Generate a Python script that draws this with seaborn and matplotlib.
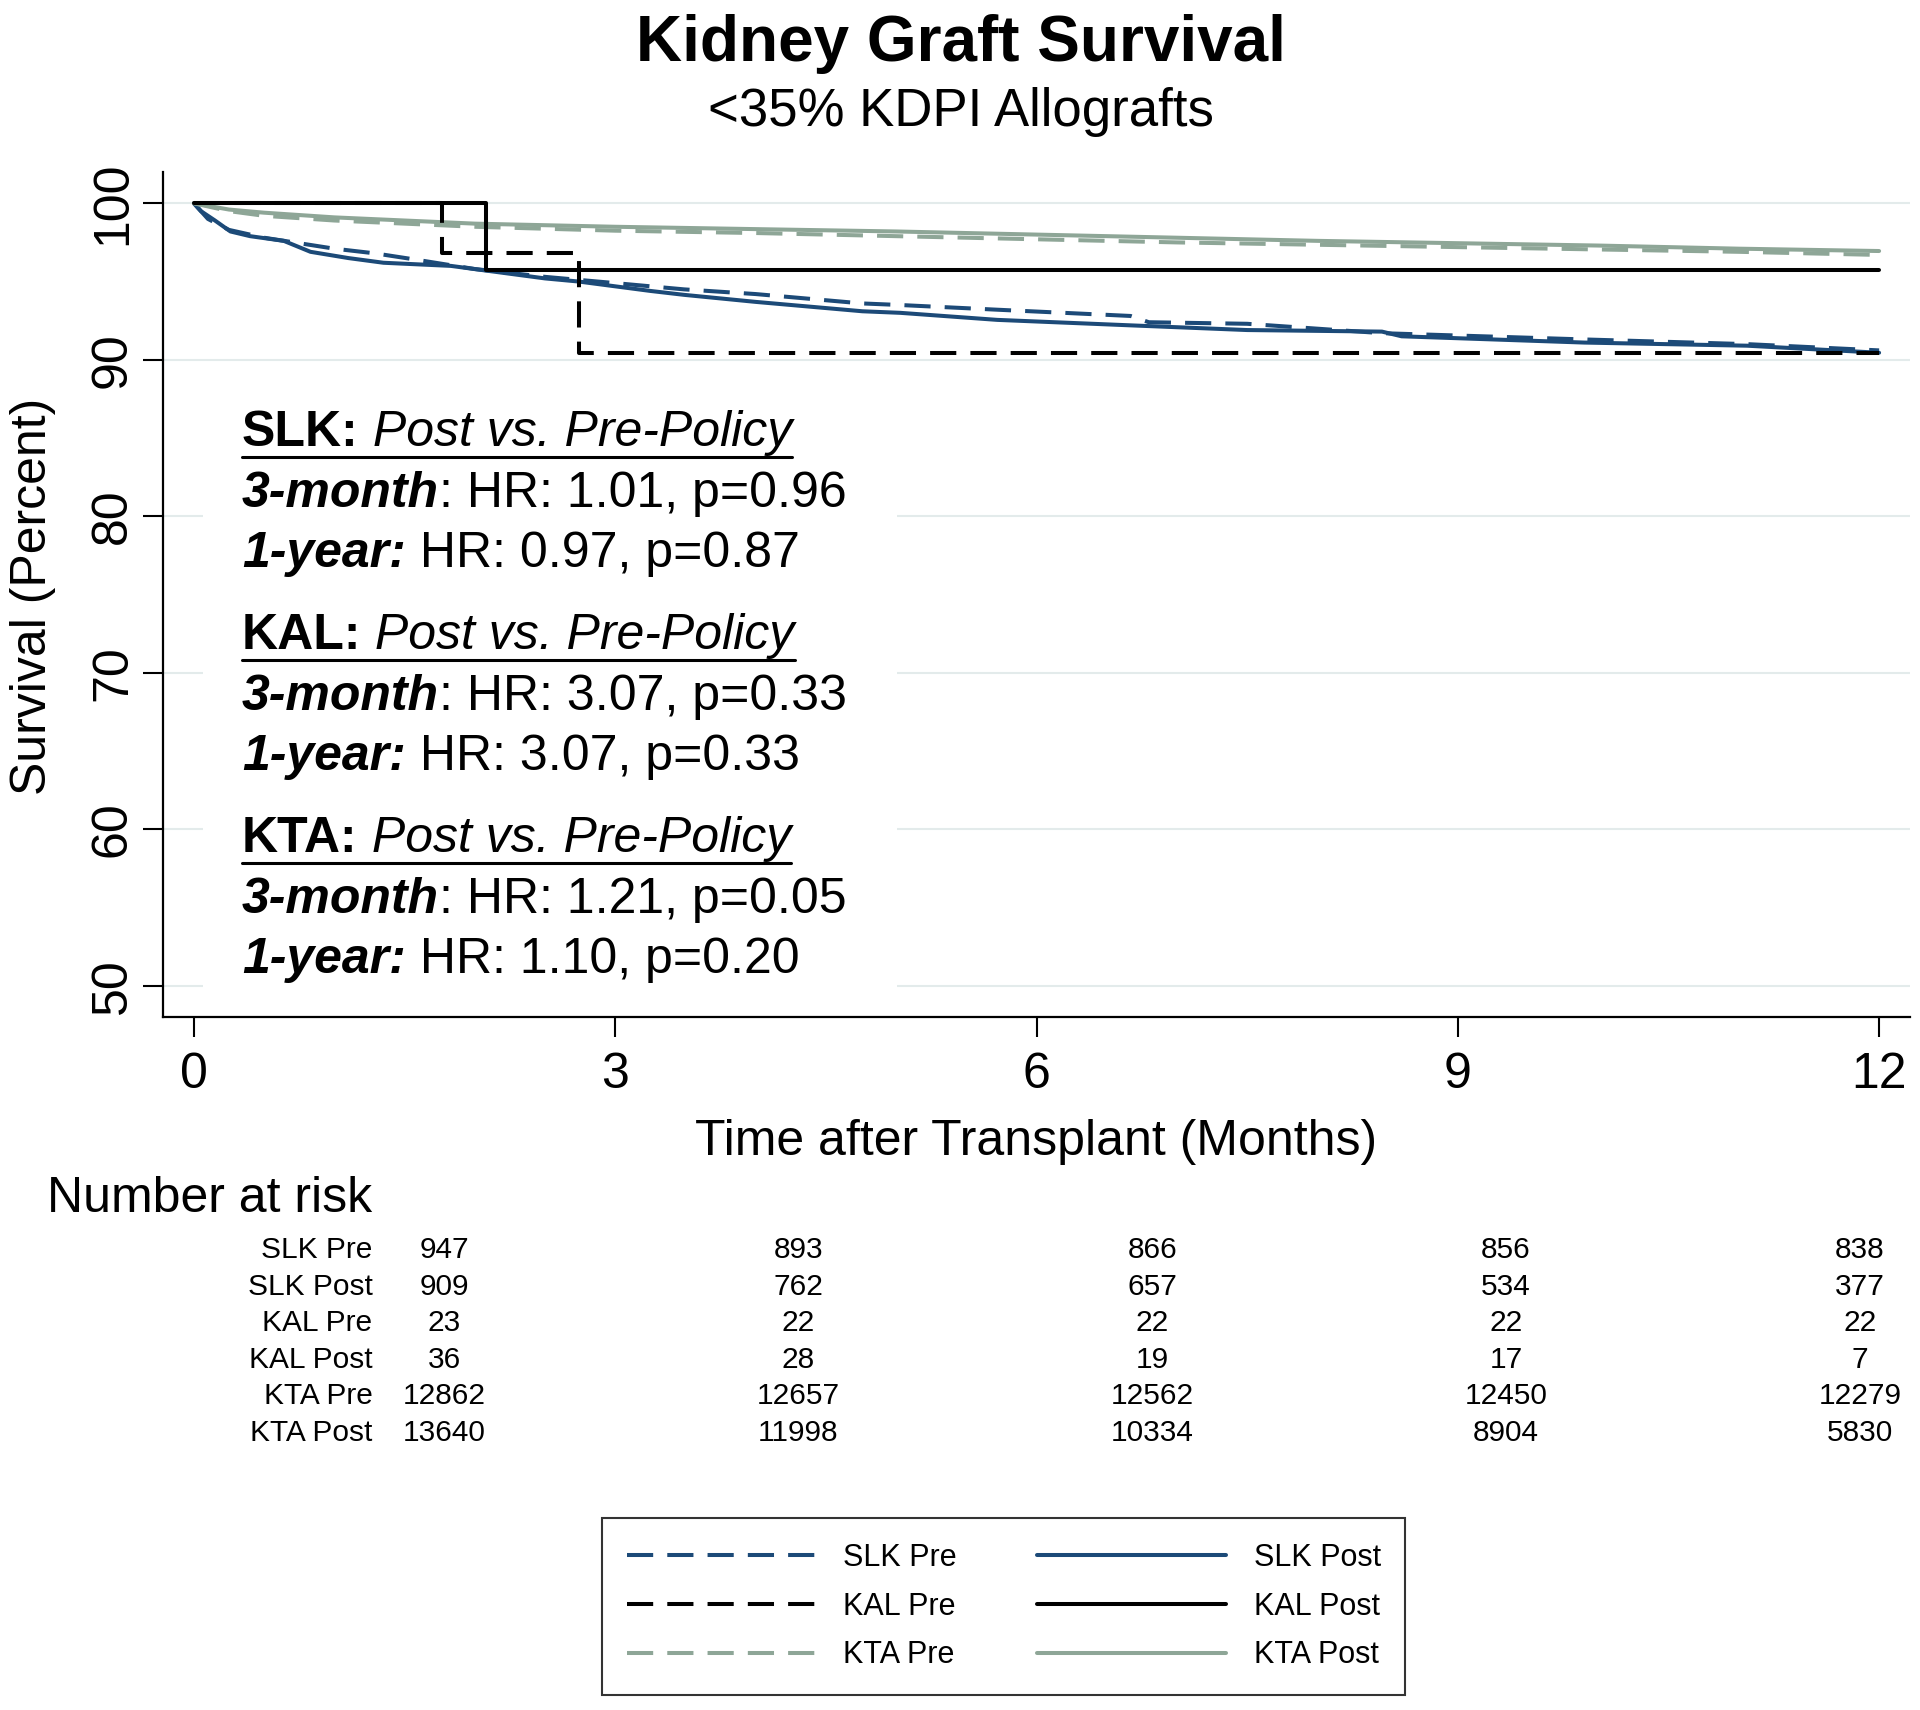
import pandas as pd
import seaborn as sns
import matplotlib.pyplot as plt
from matplotlib.lines import Line2D
from matplotlib.patches import Rectangle
from matplotlib.transforms import IdentityTransform

W, H = 1920, 1710

# Kaplan-Meier curves (months, survival %)
slk_pre_t = [0, 0.1, 0.25, 0.5, 1.0, 1.29, 1.58, 2.0, 2.5, 3.0, 3.49, 4.0, 4.76, 5.03, 5.72, 6.67, 6.8, 7.5, 8.46, 9.9, 11.06, 12]
slk_pre_s = [100, 99.0, 98.3, 97.8, 97.1, 96.8, 96.4, 95.8, 95.3, 94.9, 94.5, 94.2, 93.6, 93.5, 93.2, 92.8, 92.4, 92.3, 91.7, 91.3, 91.0, 90.6]
slk_post_t = [0, 0.05, 0.15, 0.26, 0.4, 0.64, 0.83, 1.1, 1.35, 1.83, 2.08, 2.5, 2.74, 3.25, 3.49, 4.0, 4.76, 5.03, 5.72, 6.67, 7.5, 8.46, 8.6, 9.9, 11.06, 12]
slk_post_s = [100, 99.5, 98.9, 98.2, 97.9, 97.6, 96.9, 96.5, 96.2, 96.0, 95.7, 95.2, 95.0, 94.4, 94.15, 93.7, 93.1, 93.0, 92.55, 92.2, 91.9, 91.8, 91.5, 91.1, 90.9, 90.45]
kal_pre_t = [0, 1.77, 2.74, 12]
kal_pre_s = [100, 96.85, 90.43, 90.43]
kal_post_t = [0, 2.08, 12]
kal_post_s = [100, 95.74, 95.74]
kta_pre_t = [0, 0.25, 0.5, 1, 2, 3, 4, 5, 6, 7, 8, 9, 10, 11, 12]
kta_pre_s = [100, 99.5, 99.2, 98.9, 98.5, 98.25, 98.1, 97.9, 97.7, 97.5, 97.35, 97.2, 97.05, 96.9, 96.7]
kta_post_t = [0, 0.25, 0.5, 1, 2, 3, 4, 5, 6, 7, 8, 9, 10, 11, 12]
kta_post_s = [100, 99.6, 99.4, 99.1, 98.7, 98.5, 98.35, 98.2, 98.0, 97.8, 97.6, 97.45, 97.3, 97.1, 96.95]

# number at risk table
risk_months = [0, 3, 6, 9, 12]
risk_groups = ["SLK Pre", "SLK Post", "KAL Pre", "KAL Post", "KTA Pre", "KTA Post"]
slk_pre_risk = [947, 893, 866, 856, 838]
slk_post_risk = [909, 762, 657, 534, 377]
kal_pre_risk = [23, 22, 22, 22, 22]
kal_post_risk = [36, 28, 19, 17, 7]
kta_pre_risk = [12862, 12657, 12562, 12450, 12279]
kta_post_risk = [13640, 11998, 10334, 8904, 5830]

# hazard ratio annotations
hr_groups = ["SLK", "KAL", "KTA"]
hr_3m = ["1.01", "3.07", "1.21"]
p_3m = ["0.96", "0.33", "0.05"]
hr_1y = ["0.97", "3.07", "1.10"]
p_1y = ["0.87", "0.33", "0.20"]

sns.set_theme(style="white")
plt.rcParams["font.family"] = ["Liberation Sans", "DejaVu Sans"]
plt.rcParams["text.color"] = "black"
plt.rcParams["axes.labelcolor"] = "black"

navy = "#1c4a78"
green = "#8ea697"
palette = {"SLK Pre": navy, "SLK Post": navy, "KAL Pre": "black", "KAL Post": "black",
           "KTA Pre": green, "KTA Post": green}
dash = (6.5, 3.5)
dashes = {g: (dash if g.endswith("Pre") else "") for g in palette}

curves = {
    "SLK Pre": (slk_pre_t, slk_pre_s), "SLK Post": (slk_post_t, slk_post_s),
    "KAL Pre": (kal_pre_t, kal_pre_s), "KAL Post": (kal_post_t, kal_post_s),
    "KTA Pre": (kta_pre_t, kta_pre_s), "KTA Post": (kta_post_t, kta_post_s),
}
df = pd.concat([pd.DataFrame({"months": t, "survival": s, "group": g})
                for g, (t, s) in curves.items()], ignore_index=True)

fig = plt.figure(figsize=(W / 100, H / 100), dpi=100)
ax = fig.add_axes([163 / W, 1 - 1017 / H, (1910 - 163) / W, (1017 - 172) / H])

lw = 2.9
smooth = df[~df["group"].str.startswith("KAL")]
lv = list(smooth["group"].unique())
sns.lineplot(data=smooth, x="months", y="survival", hue="group", style="group",
             hue_order=lv, style_order=lv,
             palette={g: palette[g] for g in lv}, dashes={g: dashes[g] for g in lv},
             estimator=None, errorbar=None, linewidth=lw, legend=False, ax=ax)
steps = df[df["group"].str.startswith("KAL")]
lv = list(steps["group"].unique())
sns.lineplot(data=steps, x="months", y="survival", hue="group", style="group",
             hue_order=lv, style_order=lv,
             palette={g: palette[g] for g in lv}, dashes={g: dashes[g] for g in lv},
             estimator=None, errorbar=None, linewidth=lw, legend=False, ax=ax,
             drawstyle="steps-post")

ax.set_xlim(-0.22, 12.22)
ax.set_ylim(48, 102)
ax.set_xticks([0, 3, 6, 9, 12])
ax.set_yticks([50, 60, 70, 80, 90, 100])
ax.set_xlabel("")
ax.set_ylabel("")
ax.yaxis.grid(True, color="#e3ebeb", linewidth=1.5)
ax.xaxis.grid(False)
for side in ["top", "right"]:
    ax.spines[side].set_visible(False)
for side in ["left", "bottom"]:
    ax.spines[side].set_color("black")
    ax.spines[side].set_linewidth(1.6)
ax.tick_params(axis="both", bottom=True, left=True, direction="out", length=14.5,
               width=1.5, color="black", labelsize=36, labelcolor="black")
ax.tick_params(axis="x", pad=11)
ax.tick_params(axis="y", pad=5)
plt.setp(ax.get_yticklabels(), rotation=90, va="center")

# titles and axis labels
fig.text(961 / W, 1 - 61 / H, "Kidney Graft Survival", ha="center", va="baseline",
         fontsize=46, fontweight="bold")
fig.text(961 / W, 1 - 126 / H, "<35% KDPI Allografts", ha="center", va="baseline", fontsize=38)
fig.text(1036 / W, 1 - 1155 / H, "Time after Transplant (Months)", ha="center",
         va="baseline", fontsize=36)
fig.text(33 / W, 1 - 596 / H, "Survival (Percent)", ha="center", va="center",
         rotation=90, fontsize=36)

# HR annotation block with mixed font styles
renderer = fig.canvas.get_renderer()
ident = IdentityTransform()
boxes = []


def draw_pieces(pieces, x, y_top, underline=False):
    xd, yd = x, H - y_top
    first = None
    for s, weight, style in pieces:
        t = fig.text(xd, yd, s, transform=ident, ha="left", va="baseline", fontsize=36,
                     fontweight=weight, fontstyle=style, zorder=5)
        bb = t.get_window_extent(renderer)
        boxes.append(bb)
        if first is None:
            first = bb.x0
        xd = bb.x1
    if underline:
        fig.add_artist(Line2D([first, xd], [yd - 11, yd - 11], transform=ident,
                              color="black", linewidth=2.2, zorder=5))


for i, g in enumerate(hr_groups):
    base = 446 + 203 * i
    draw_pieces([(g + ":", "bold", "normal"), (" Post vs. Pre-Policy", "normal", "italic")],
                242, base, underline=True)
    draw_pieces([("3-month", "bold", "italic"),
                 (": HR: %s, p=%s" % (hr_3m[i], p_3m[i]), "normal", "normal")],
                242, base + 61)
    draw_pieces([("1-year:", "bold", "italic"),
                 (" HR: %s, p=%s" % (hr_1y[i], p_1y[i]), "normal", "normal")],
                242, base + 121)

# white panel behind the annotation, kept above the x axis line
x0 = min(b.x0 for b in boxes) - 39
x1 = max(b.x1 for b in boxes) + 50
y0 = max(min(b.y0 for b in boxes) - 35, H - 1017 + 3)
y1 = max(b.y1 for b in boxes) + 25
fig.add_artist(Rectangle((x0, y0), x1 - x0, y1 - y0, transform=ident,
                         facecolor="white", edgecolor="none", zorder=1))

# number at risk
fig.text(47 / W, 1 - 1212 / H, "Number at risk", ha="left", va="baseline", fontsize=36)
rax = fig.add_axes([444.5 / W, 1 - 1448.3 / H, (1860 - 444.5) / W, 219.6 / H])
rax.set_xlim(0, 12)
rax.set_ylim(5.5, -0.5)
rax.axis("off")
risk_rows = [slk_pre_risk, slk_post_risk, kal_pre_risk, kal_post_risk, kta_pre_risk, kta_post_risk]
for r, (g, counts) in enumerate(zip(risk_groups, risk_rows)):
    rax.text(-0.61, r, g, ha="right", va="center_baseline", fontsize=21.5, clip_on=False)
    for m, n in zip(risk_months, counts):
        rax.text(m, r, str(n), ha="center", va="center_baseline", fontsize=21.5, clip_on=False)

# legend
order = ["SLK Pre", "KAL Pre", "KTA Pre", "SLK Post", "KAL Post", "KTA Post"]
handles = [Line2D([], [], color=palette[g], linewidth=lw,
                  linestyle=(0, dash) if g.endswith("Pre") else "-") for g in order]
leg = fig.legend(handles, order, ncol=2, loc="center", bbox_to_anchor=(0.5227, 0.0605),
                 fontsize=22, frameon=True, fancybox=False, edgecolor="black",
                 handlelength=6.2, handletextpad=0.9, columnspacing=2.6,
                 labelspacing=0.62, borderpad=0.8)
leg.get_frame().set_linewidth(1.5)

fig.savefig("out.png", dpi=100, facecolor="white")
